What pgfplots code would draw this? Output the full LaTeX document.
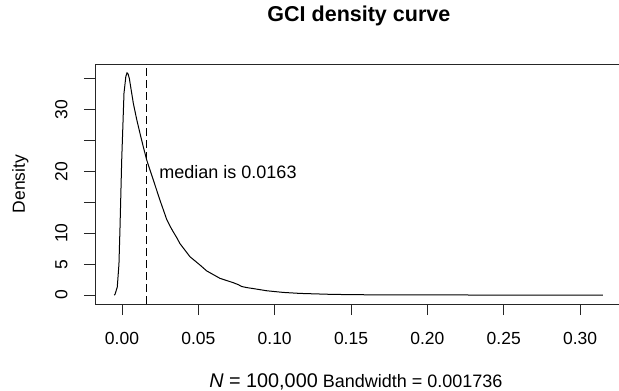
\documentclass[border=0pt]{standalone}
\usepackage{pgfplots}
\pgfplotsset{compat=1.18}
\usepackage{fontspec}
\setmainfont{Liberation Sans}
\begin{document}
\begin{tikzpicture}
\begin{axis}[
  at={(0,0)}, anchor=south west,
  scale only axis, width=527.8bp, height=240bp,
  xmin=-0.01769, xmax=0.328, ymin=-1.44, ymax=37.33,
  axis line style={line width=0.9bp, black!85},
  tick style={line width=0.9bp, black!85},
  tick align=outside, major tick length=11bp,
  tick pos=left,
  xtick={0,0.05,0.1,0.15,0.2,0.25,0.3},
  xticklabels={0.00,0.05,0.10,0.15,0.20,0.25,0.30},
  ytick={0,5,10,15,20,25,30,35},
  yticklabels={0,5,10,,20,,30,},
  xticklabel style={font=\fontsize{17.5bp}{21bp}\selectfont, anchor=north, inner sep=0pt, yshift=-17bp},
  yticklabel style={font=\fontsize{17.5bp}{21bp}\selectfont, xshift=-16.3bp, rotate=90, anchor=south, inner sep=0pt},
  title={GCI density curve},
  title style={font=\bfseries\fontsize{21.5bp}{25bp}\selectfont, at={(axis description cs:0.5,1)}, anchor=base, yshift=37bp},
  xlabel={{\fontsize{19.8bp}{23bp}\selectfont\textit{N} = 100,000} Bandwidth = 0.001736},
  xlabel style={font=\fontsize{18bp}{21bp}\selectfont, at={(axis description cs:0.5,0)}, anchor=base, xshift=-3bp, yshift=-83.5bp},
  every axis y label/.style={at={(axis description cs:0,0.5)}, xshift=-70bp, rotate=90, anchor=base, font=\fontsize{17.5bp}{21bp}\selectfont},
  ylabel={Density},
]
\addplot[black, line width=1bp] coordinates {
(-0.0052,0) (-0.0046,0.1) (-0.0031,1.3) (-0.0020,5) (-0.0013,11.0) (-0.0002,21.8)
(0.0013,32.6) (0.0025,35.3) (0.0033,35.9) (0.0040,35.7) (0.0048,35.0) (0.0074,31.0)
(0.0096,28.4) (0.0118,26.1) (0.0140,23.9) (0.0162,21.8) (0.0205,18.6) (0.0249,15.3)
(0.0293,12.2) (0.0320,10.9) (0.0336,10.2) (0.0358,9.3) (0.0380,8.3) (0.0445,6.2)
(0.0511,4.85) (0.0555,3.9) (0.0642,2.7) (0.0729,2.0) (0.0760,1.7) (0.0785,1.38)
(0.082,1.2) (0.086,1.05) (0.0948,0.7) (0.1057,0.43) (0.1166,0.27) (0.138,0.11) (0.16,0.05)
(0.182,0.03) (0.22,0.015) (0.26,0.01) (0.30,0.005) (0.315,0.0)
};
\addplot[black, line width=1bp, dash pattern=on 8bp off 4bp] coordinates {(0.0163,-1.44) (0.0163,37.33)};
\node[anchor=west, inner sep=0pt, font=\fontsize{18bp}{21bp}\selectfont] at (axis cs:0.0244,19.8) {median is 0.0163};
\end{axis}
\pgfresetboundingbox
\path[use as bounding box] (-95bp,-87bp) rectangle (524bp,304bp);
\end{tikzpicture}
\end{document}
